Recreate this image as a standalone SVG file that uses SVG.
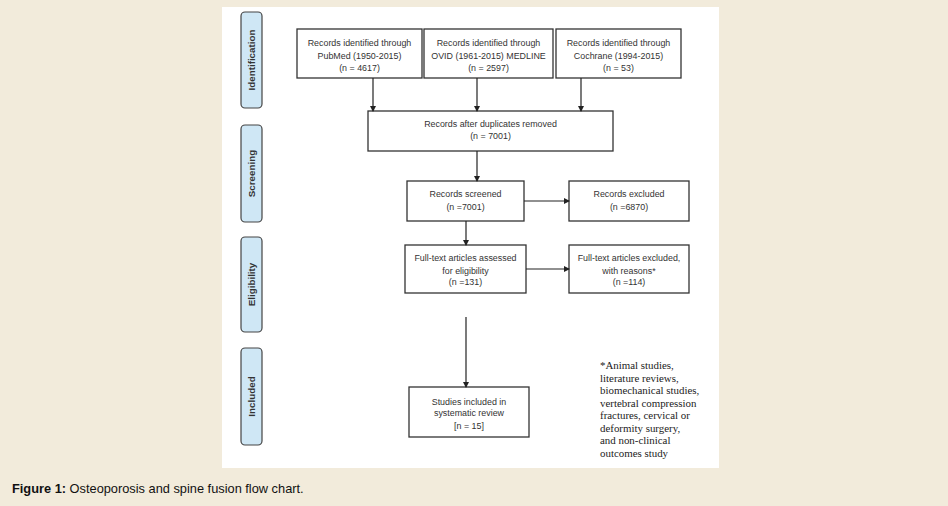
<svg xmlns="http://www.w3.org/2000/svg" width="948" height="506" viewBox="0 0 948 506">
<style>
.box{fill:#fff;stroke:#333;stroke-width:1.3}
.ph{fill:#cfe7f5;stroke:#444;stroke-width:1.2}
.t{font-family:"Liberation Sans",Arial,sans-serif;font-size:8.9px;fill:#333;text-anchor:middle}
.pl{font-family:"Liberation Sans",Arial,sans-serif;font-size:9.8px;font-weight:bold;fill:#333;text-anchor:middle}
.fn{font-family:"Liberation Serif","Times New Roman",serif;font-size:10.9px;fill:#222}
.ln{stroke:#222;stroke-width:1.2;fill:none}
.cap{font-family:"Liberation Sans",Arial,sans-serif;font-size:12.8px;fill:#111}
</style>
<defs>
<marker id="ah" markerWidth="6" markerHeight="6" refX="5" refY="3" orient="auto" markerUnits="userSpaceOnUse">
<path d="M0,0 L6,3 L0,6 Z" fill="#222"/>
</marker>
</defs>
<rect x="0" y="0" width="948" height="506" fill="#f2ebdb"/>
<rect x="222" y="7" width="497" height="461" fill="#fff"/>

<g id="phase-identification"><rect class="ph" x="241" y="12" width="21" height="96" rx="4"/><text class="pl" transform="translate(255,60) rotate(-90)">Identification</text></g>
<g id="phase-screening"><rect class="ph" x="241" y="125" width="21" height="97" rx="4"/><text class="pl" transform="translate(255,173.5) rotate(-90)">Screening</text></g>
<g id="phase-eligibility"><rect class="ph" x="241" y="237" width="21" height="95" rx="4"/><text class="pl" transform="translate(255,284.5) rotate(-90)">Eligibility</text></g>
<g id="phase-included"><rect class="ph" x="241" y="348" width="21" height="97" rx="4"/><text class="pl" transform="translate(255,396.5) rotate(-90)">Included</text></g>

<g id="pubmed"><rect class="box" x="297" y="29" width="125" height="49"/><text class="t" x="359.5" y="46">Records identified through</text><text class="t" x="359.5" y="59">PubMed (1950-2015)</text><text class="t" x="359.5" y="71">(n = 4617)</text></g>
<g id="ovid"><rect class="box" x="424" y="29" width="129" height="49"/><text class="t" x="488.5" y="46">Records identified through</text><text class="t" x="488.5" y="59">OVID (1961-2015) MEDLINE</text><text class="t" x="488.5" y="71">(n = 2597)</text></g>
<g id="cochrane"><rect class="box" x="556" y="29" width="125" height="49"/><text class="t" x="618.5" y="46">Records identified through</text><text class="t" x="618.5" y="59">Cochrane (1994-2015)</text><text class="t" x="618.5" y="71">(n = 53)</text></g>

<g id="duplicates"><rect class="box" x="368" y="111" width="245" height="40"/><text class="t" x="490.5" y="127">Records after duplicates removed</text><text class="t" x="490.5" y="139">(n = 7001)</text></g>
<g id="screened"><rect class="box" x="407" y="181" width="117" height="40"/><text class="t" x="465.5" y="197">Records screened</text><text class="t" x="465.5" y="210">(n =7001)</text></g>
<g id="excluded"><rect class="box" x="569" y="181" width="120" height="40"/><text class="t" x="629" y="197">Records excluded</text><text class="t" x="629" y="210">(n =6870)</text></g>
<g id="fulltext"><rect class="box" x="405" y="245" width="121" height="48"/><text class="t" x="465.5" y="261">Full-text articles assessed</text><text class="t" x="465.5" y="274">for eligibility</text><text class="t" x="465.5" y="285">(n =131)</text></g>
<g id="ft-excluded"><rect class="box" x="569" y="245" width="120" height="48"/><text class="t" x="629" y="261">Full-text articles excluded,</text><text class="t" x="629" y="274">with reasons*</text><text class="t" x="629" y="285">(n =114)</text></g>
<g id="included"><rect class="box" x="409" y="387" width="120" height="50"/><text class="t" x="469" y="405">Studies included in</text><text class="t" x="469" y="416">systematic review</text><text class="t" x="469" y="429">[n = 15]</text></g>

<g id="connectors">
<line class="ln" x1="373" y1="78" x2="373" y2="111" marker-end="url(#ah)"/>
<line class="ln" x1="477" y1="78" x2="477" y2="111" marker-end="url(#ah)"/>
<line class="ln" x1="581" y1="78" x2="581" y2="111" marker-end="url(#ah)"/>
<line class="ln" x1="477" y1="151" x2="477" y2="181" marker-end="url(#ah)"/>
<line class="ln" x1="524" y1="201" x2="569" y2="201" marker-end="url(#ah)"/>
<line class="ln" x1="466" y1="221" x2="466" y2="245" marker-end="url(#ah)"/>
<line class="ln" x1="526" y1="269" x2="569" y2="269" marker-end="url(#ah)"/>
<line class="ln" x1="466" y1="317" x2="466" y2="387" marker-end="url(#ah)"/>
</g>

<g id="footnote">
<text class="fn" x="600" y="369">*Animal studies,</text>
<text class="fn" x="600" y="381.5">literature reviews,</text>
<text class="fn" x="600" y="394">biomechanical studies,</text>
<text class="fn" x="600" y="406.5">vertebral compression</text>
<text class="fn" x="600" y="419">fractures, cervical or</text>
<text class="fn" x="600" y="431.5">deformity surgery,</text>
<text class="fn" x="600" y="444">and non-clinical</text>
<text class="fn" x="600" y="456.5">outcomes study</text>
</g>

<text class="cap" x="12" y="493"><tspan font-weight="bold">Figure 1:</tspan> Osteoporosis and spine fusion flow chart.</text>
</svg>
